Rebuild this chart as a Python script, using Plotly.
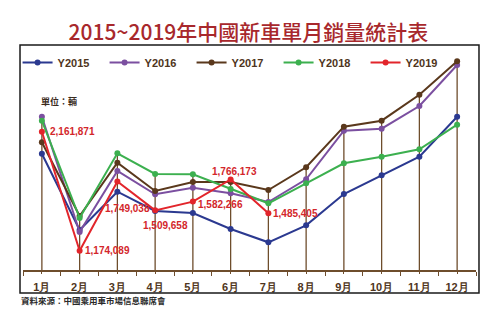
import plotly.graph_objects as go

# Monthly new-car sales (units), China
months = ["1月", "2月", "3月", "4月", "5月", "6月", "7月", "8月", "9月", "10月", "11月", "12月"]

y2015 = [1979800, 1346700, 1664500, 1504400, 1487800, 1355000, 1244600, 1385700, 1645400, 1800600, 1954900, 2286900]
y2016 = [2286900, 1330100, 1836300, 1642900, 1697700, 1651200, 1579000, 1767400, 2170700, 2187300, 2375600, 2715900]
y2017 = [2074400, 1462900, 1905100, 1670300, 1745000, 1745000, 1678600, 1867000, 2203900, 2253700, 2469400, 2746600]
y2018 = [2253700, 1446300, 1983200, 1811400, 1808900, 1686900, 1568300, 1734200, 1900200, 1954900, 2016300, 2220500]
y2019 = [2161871, 1174089, 1749038, 1509658, 1582266, 1766173, 1485405]

series_names = ["Y2015", "Y2016", "Y2017", "Y2018", "Y2019"]
series_data = [y2015, y2016, y2017, y2018, y2019]
series_colors = ["#2b3990", "#7b4fa0", "#5a381c", "#3cb04f", "#e2252b"]

Y_MIN, Y_MAX = 1014800, 2782200
BROWN = "#6e4d2c"
TEXT_BROWN = "#4f3520"

fig = go.Figure()

# vertical drop lines from each month's highest value down to the axis
drop_x, drop_y = [], []
for i in range(len(months)):
    top = max(s[i] for s in series_data if i < len(s))
    drop_x += [i, i, None]
    drop_y += [Y_MIN - 30000, top, None]
fig.add_trace(go.Scatter(x=drop_x, y=drop_y, mode="lines",
                         line=dict(color=BROWN, width=1.3),
                         showlegend=False, hoverinfo="skip", cliponaxis=False))

for name, data, color in zip(series_names, series_data, series_colors):
    fig.add_trace(go.Scatter(
        x=list(range(len(data))), y=data, name=name,
        mode="lines+markers",
        line=dict(color=color, width=2),
        marker=dict(color=color, size=6),
        cliponaxis=False,
    ))

# value labels for 2019
label_style = [
    dict(xanchor="left", yanchor="middle", xshift=6, yshift=0),
    dict(xanchor="left", yanchor="middle", xshift=3, yshift=0),
    dict(xanchor="center", yanchor="middle", xshift=10, yshift=-27),
    dict(xanchor="center", yanchor="middle", xshift=10, yshift=-15),
    dict(xanchor="left", yanchor="middle", xshift=3, yshift=-3),
    dict(xanchor="center", yanchor="middle", xshift=4, yshift=8),
    dict(xanchor="left", yanchor="middle", xshift=3, yshift=0),
]
for i, (v, st) in enumerate(zip(y2019, label_style)):
    fig.add_annotation(x=i, y=v, xref="x", yref="y", text=f"{v:,}", showarrow=False,
                       font=dict(family="Liberation Sans, Arial", size=10,
                                 color="#d3262b", weight="bold"),
                       **st)

fig.add_annotation(x=-0.08, y=0.79, xref="x", yref="paper",
                   text="單位：輛", showarrow=False, xanchor="left", yanchor="middle",
                   font=dict(family="Noto Sans CJK TC", size=9, color="#3a2a1c", weight="bold"))

fig.add_annotation(x=0, y=-0.143, xref="paper", yref="paper", xshift=-4,
                   text="資料來源：中國乘用車市場信息聯席會", showarrow=False,
                   xanchor="left", yanchor="middle",
                   font=dict(family="Noto Sans CJK TC", size=8.5, color="#2a2a2a", weight="bold"))

# outer frame around the chart body (legend included)
fig.add_shape(type="rect", xref="paper", yref="paper",
              x0=-0.0066, x1=1.0066, y0=-0.108, y1=1.0563,
              line=dict(color="#1a1a1a", width=1.5), layer="above")

fig.update_layout(
    width=502, height=330,
    margin=dict(l=23, r=26, t=57, b=60, autoexpand=False),
    paper_bgcolor="white", plot_bgcolor="white",
    title=dict(text="2015~2019年中國新車單月銷量統計表", x=0.495, xanchor="center",
               y=0.90, yanchor="middle",
               font=dict(family="Noto Sans CJK TC", size=21, color="#a8282c", weight=500)),
    legend=dict(orientation="h", x=-0.012, xanchor="left", y=1.042, yanchor="top",
                entrywidth=42, entrywidthmode="pixels", itemwidth=30,
                bgcolor="rgba(0,0,0,0)",
                font=dict(family="Liberation Sans", size=11, color=TEXT_BROWN, weight="bold")),
    xaxis=dict(range=[-0.5, 11.5], tickmode="array", tickvals=list(range(len(months))),
               ticktext=months, showgrid=False, zeroline=False,
               showline=True, linecolor=BROWN, linewidth=1.5,
               ticks="outside", ticklen=2, tickcolor=BROWN, ticklabelstandoff=4,
               minor=dict(tickmode="linear", tick0=0.5, dtick=1, ticks="outside",
                          ticklen=4, tickcolor=BROWN, showgrid=False),
               tickfont=dict(family="Liberation Sans", size=11, color=TEXT_BROWN, weight="bold")),
    yaxis=dict(range=[Y_MIN, Y_MAX], showgrid=False, zeroline=False, showline=False,
               showticklabels=False, ticks=""),
    showlegend=True,
)

fig.write_html("out.html")
